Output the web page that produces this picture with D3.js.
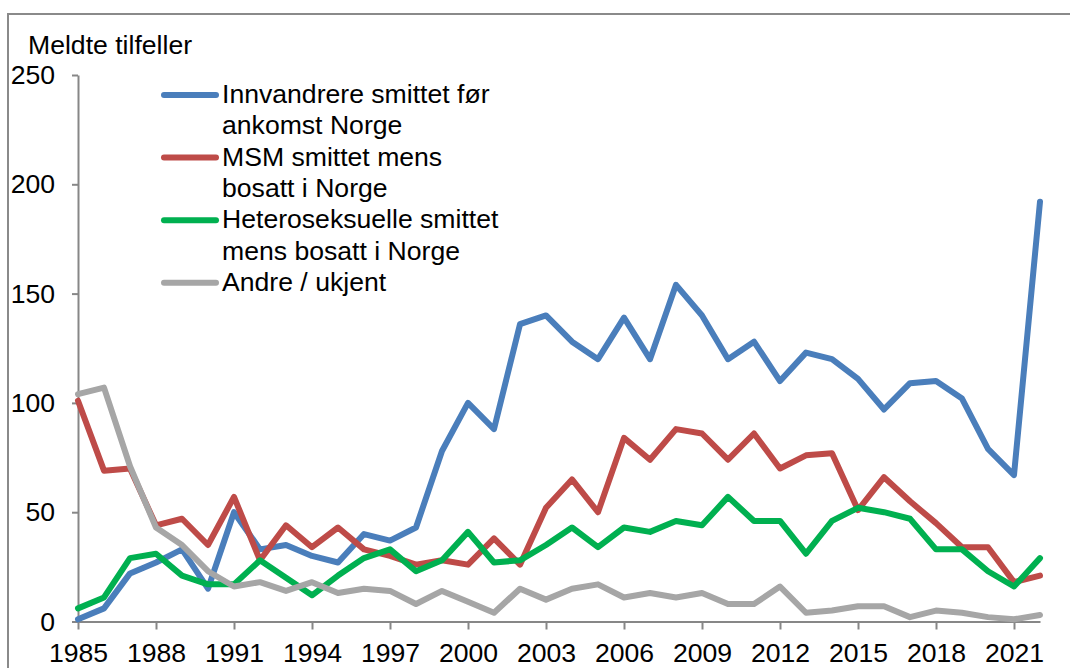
<!DOCTYPE html>
<html>
<head>
<meta charset="utf-8">
<script src="https://cdn.jsdelivr.net/npm/d3@7"></script>
<style>
    html, body { margin: 0; padding: 0; background: #fff; }
    svg { display: block; font-family: "Liberation Sans", Arial, sans-serif; }
</style>
</head>
<body>
<svg id="chart" width="1070" height="668"></svg>
<script>
'use strict';

const years = d3.range(1985, 2023);
const tickYears = [1985, 1988, 1991, 1994, 1997, 2000, 2003, 2006, 2009, 2012, 2015, 2018, 2021];
const yTicks = [0, 50, 100, 150, 200, 250];

const innvandrere = [1, 6, 22, 27, 33, 15, 50, 33, 35, 30, 27, 40, 37, 43, 78, 100, 88, 136, 140, 128,
    120, 139, 120, 154, 140, 120, 128, 110, 123, 120, 111, 97, 109, 110, 102, 79, 67, 192];
const msm = [101, 69, 70, 44, 47, 35, 57, 28, 44, 34, 43, 33, 30, 26, 28, 26, 38, 26, 52, 65,
    50, 84, 74, 88, 86, 74, 86, 70, 76, 77, 51, 66, 55, 45, 34, 34, 18, 21];
const hetero = [6, 11, 29, 31, 21, 17, 17, 28, 20, 12, 21, 29, 33, 23, 28, 41, 27, 28, 35, 43,
    34, 43, 41, 46, 44, 57, 46, 46, 31, 46, 52, 50, 47, 33, 33, 23, 16, 29];
const andre = [104, 107, 71, 43, 35, 23, 16, 18, 14, 18, 13, 15, 14, 8, 14, 9, 4, 15, 10, 15,
    17, 11, 13, 11, 13, 8, 8, 16, 4, 5, 7, 7, 2, 5, 4, 2, 1, 3];

const seriesNames = [
    ['Innvandrere smittet før', 'ankomst Norge'],
    ['MSM smittet mens', 'bosatt i Norge'],
    ['Heteroseksuelle smittet', 'mens bosatt i Norge'],
    ['Andre / ukjent']
];
const seriesColors = ['#4a7ebb', '#be4b48', '#00b050', '#a6a6a6'];
const seriesValues = [innvandrere, msm, hetero, andre];

const svg = d3.select('#chart');
const axisColor = '#878787';
const fontSize = '26.6px';

// outer frame, runs off the right and bottom edge like in the source
svg.append('rect')
    .attr('x', 8).attr('y', 14)
    .attr('width', 1200).attr('height', 800)
    .attr('fill', 'none')
    .attr('stroke', '#8a8a8a')
    .attr('stroke-width', 2);

const x = d3.scalePoint()
    .domain(years)
    .range([78, 1040]);

const y = d3.scaleLinear()
    .domain([0, 250])
    .range([621.5, 75]);

// axes
const yAxis = svg.append('g')
    .attr('transform', 'translate(78,0)')
    .call(d3.axisLeft(y).tickValues(yTicks).tickSize(6).tickSizeOuter(0).tickPadding(17));

const xAxis = svg.append('g')
    .attr('transform', 'translate(0,' + y(0) + ')')
    .call(d3.axisBottom(x).tickValues(tickYears).tickSize(8).tickSizeOuter(0).tickPadding(14));

[yAxis, xAxis].forEach((g) => {
    g.select('.domain').attr('stroke', axisColor).attr('stroke-width', 2);
    g.selectAll('.tick line').attr('stroke', axisColor).attr('stroke-width', 2);
    g.selectAll('.tick text')
        .attr('fill', '#000')
        .style('font-size', fontSize)
        .style('font-family', '"Liberation Sans", Arial, sans-serif');
});

svg.append('text')
    .attr('x', 28)
    .attr('y', 54)
    .style('font-size', fontSize)
    .attr('fill', '#000')
    .text('Meldte tilfeller');

// series lines
const line = d3.line()
    .x((d, i) => x(years[i]))
    .y((d) => y(d));

svg.append('g')
    .selectAll('path')
    .data(seriesValues)
    .enter()
    .append('path')
    .attr('d', (d) => line(d))
    .attr('fill', 'none')
    .attr('stroke', (d, i) => seriesColors[i])
    .attr('stroke-width', 6)
    .attr('stroke-linejoin', 'round')
    .attr('stroke-linecap', 'round');

// legend
const lineHeight = 31.3;
const legend = svg.append('g');
let row = 0;
seriesNames.forEach((lines, i) => {
    const base = 103 + row * lineHeight;
    legend.append('line')
        .attr('x1', 164).attr('x2', 216)
        .attr('y1', base - 8).attr('y2', base - 8)
        .attr('stroke', seriesColors[i])
        .attr('stroke-width', 6)
        .attr('stroke-linecap', 'round');
    lines.forEach((t, j) => {
        legend.append('text')
            .attr('x', 222)
            .attr('y', base + j * lineHeight)
            .style('font-size', fontSize)
            .attr('fill', '#000')
            .text(t);
    });
    row += lines.length;
});
</script>
</body>
</html>
